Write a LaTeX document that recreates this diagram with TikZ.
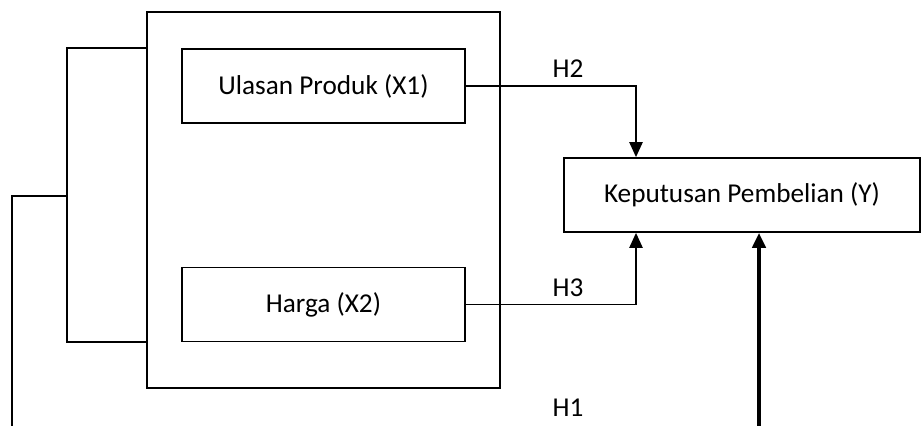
\documentclass[tikz,border=0pt]{standalone}
\usepackage{fontspec}
\setmainfont{Carlito}
\usetikzlibrary{arrows.meta}

\tikzset{
  varbox/.style={draw, line width=1pt, minimum height=1.48cm, inner sep=0pt},
  arr/.style={line width=1pt, -{Triangle[length=8.5pt,width=7.5pt]}},
  hyp/.style={inner sep=0pt}
}

\begin{document}
\begin{tikzpicture}[font=\fontsize{15.5}{18}\selectfont]
  \useasboundingbox (0,0) rectangle (18.44,8.52);
  \node[draw, line width=1pt, minimum width=7.06cm, minimum height=7.52cm] (outer) at (6.47,4.52) {};
  \node[varbox, minimum width=5.66cm] (ulasan) at (6.47,6.80) {Ulasan Produk (X1)};
  \node[varbox, minimum width=5.66cm] (harga) at (6.47,2.43) {Harga (X2)};
  \node[varbox, minimum width=7.12cm] (keputusan) at (14.84,4.62) {Keputusan Pembelian (Y)};

  \coordinate (brk) at (1.34,4.60);
  \coordinate (h1a) at (0.24,0);
  \coordinate (h1b) at (15.18,0);

  \draw[line width=1pt] (ulasan.north -| outer.west) -| (brk) |- (harga.south -| outer.west);
  \draw[line width=1pt] (brk) -| (h1a);
  \draw[arr] (ulasan.east) -| ([xshift=-2.12cm]keputusan.north);
  \draw[arr] (harga.east) -| ([xshift=-2.12cm]keputusan.south);
  \draw[arr, line width=2pt] (h1b) -- (h1b |- keputusan.south);

  \node[hyp] (h2) at (11.36,7.14) {H2};
  \node[hyp] (h3) at (11.36,2.76) {H3};
  \node[hyp] (h1) at (11.36,0.37) {H1};
\end{tikzpicture}
\end{document}
